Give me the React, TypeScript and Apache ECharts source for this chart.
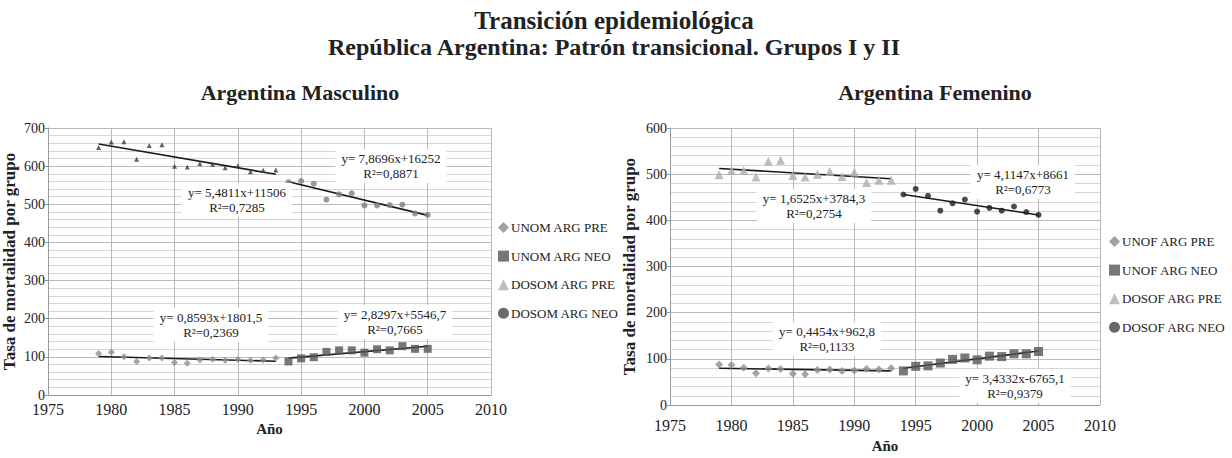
import React, { useEffect, useRef } from "react";
import * as echarts from "echarts";

const yearsPre = [1979, 1980, 1981, 1982, 1983, 1984, 1985, 1986, 1987, 1988, 1989, 1990, 1991, 1992, 1993];
const yearsNeo = [1994, 1995, 1996, 1997, 1998, 1999, 2000, 2001, 2002, 2003, 2004, 2005];

// Argentina Masculino
const unomPre = [109, 112, 100, 88, 97, 97, 85, 83, 92, 94, 91, 93, 91, 92, 97];
const unomNeo = [88, 96, 99, 113, 117, 117, 111, 120, 117, 128, 121, 121];
const dosomPre = [649, 663, 664, 618, 654, 656, 600, 598, 607, 605, 596, 601, 585, 589, 590];
const dosomNeo = [558, 561, 554, 512, 526, 529, 497, 497, 498, 499, 476, 472];

// Argentina Femenino
const unofPre = [88, 87, 81, 69, 79, 78, 68, 67, 76, 77, 74, 75, 78, 77, 80];
const unofNeo = [74, 84, 85, 91, 99, 102, 98, 106, 105, 111, 111, 116];
const dosofPre = [499, 508, 508, 494, 528, 530, 497, 494, 500, 506, 495, 504, 482, 487, 487];
const dosofNeo = [456, 468, 453, 421, 437, 445, 419, 427, 421, 430, 418, 412];

const legendMasc = ["UNOM ARG PRE", "UNOM ARG NEO", "DOSOM ARG PRE", "DOSOM ARG NEO"];
const legendFem = ["UNOF ARG PRE", "UNOF ARG NEO", "DOSOF ARG PRE", "DOSOF ARG NEO"];

const eqMasc = [
  "y= 0,8593x+1801,5\nR²=0,2369",
  "y= 2,8297x+5546,7\nR²=0,7665",
  "y= 5,4811x+11506\nR²=0,7285",
  "y= 7,8696x+16252\nR²=0,8871",
];
const eqFem = [
  "y= 0,4454x+962,8\nR²=0,1133",
  "y= 3,4332x-6765,1\nR²=0,9379",
  "y= 1,6525x+3784,3\nR²=0,2754",
  "y= 4,1147x+8661\nR²=0,6773",
];

const FONT = "Liberation Serif";

function pairs(xs: number[], ys: number[]) {
  return xs.map((x, i) => [x, ys[i]]);
}

function fit(xs: number[], ys: number[]) {
  const n = xs.length;
  const mx = xs.reduce((a, b) => a + b, 0) / n;
  const my = ys.reduce((a, b) => a + b, 0) / n;
  let sxy = 0;
  let sxx = 0;
  for (let i = 0; i < n; i++) {
    sxy += (xs[i] - mx) * (ys[i] - my);
    sxx += (xs[i] - mx) * (xs[i] - mx);
  }
  const b = sxy / sxx;
  const a = my - b * mx;
  const x0 = xs[0];
  const x1 = xs[n - 1];
  return [
    [x0, a + b * x0],
    [x1, a + b * x1],
  ];
}

function trend(idx: number, xs: number[], ys: number[]) {
  return {
    type: "line",
    xAxisIndex: idx,
    yAxisIndex: idx,
    data: fit(xs, ys),
    symbol: "none",
    lineStyle: { color: "#1a1a1a", width: 1.6 },
    silent: true,
    z: 3,
  };
}

function scatter(idx: number, name: string, xs: number[], ys: number[], symbol: string, size: number, color: string) {
  return {
    type: "scatter",
    name,
    xAxisIndex: idx,
    yAxisIndex: idx,
    data: pairs(xs, ys),
    symbol,
    symbolSize: size,
    itemStyle: { color },
    z: 4,
  };
}

function xAxis(idx: number, labelMargin: number, nameGap: number) {
  return {
    type: "value",
    gridIndex: idx,
    min: 1975,
    max: 2010,
    interval: 5,
    name: "Año",
    nameLocation: "middle",
    nameGap,
    nameTextStyle: { fontFamily: FONT, fontWeight: "bold", fontSize: 15, color: "#222" },
    axisLine: { show: true, lineStyle: { color: "#9a9a9a", width: 1 } },
    axisTick: { show: false },
    axisLabel: {
      fontFamily: FONT,
      fontSize: 16,
      color: "#222",
      margin: labelMargin,
      formatter: (v: number) => String(v),
    },
    splitLine: { show: true, lineStyle: { color: "#b9b9b9", width: 1 } },
  };
}

function yAxis(idx: number, max: number, nameGap: number) {
  return {
    type: "value",
    gridIndex: idx,
    min: 0,
    max,
    interval: 100,
    name: "Tasa de mortalidad por grupo",
    nameLocation: "middle",
    nameGap,
    nameTextStyle: { fontFamily: FONT, fontWeight: "bold", fontSize: 17, color: "#222" },
    axisLine: { show: true, lineStyle: { color: "#9a9a9a", width: 1 } },
    axisTick: { show: true, length: 3, lineStyle: { color: "#9a9a9a" } },
    axisLabel: { fontFamily: FONT, fontSize: 14, color: "#222", margin: 3 },
    splitLine: { show: true, lineStyle: { color: "#b9b9b9", width: 1 } },
    minorTick: { show: false, splitNumber: 5 },
    minorSplitLine: { show: true, lineStyle: { color: "#d6d6d6", width: 1 } },
  };
}

function legend(names: string[], left: number, top: number) {
  const icons = ["diamond", "rect", "triangle", "circle"];
  const colors = ["#8a8a8a", "#555555", "#acacac", "#444444"];
  return {
    orient: "vertical",
    left,
    top,
    padding: 0,
    itemGap: 15.6,
    itemWidth: 11,
    itemHeight: 11,
    textStyle: { fontFamily: FONT, fontSize: 13, color: "#222", padding: [0, 0, 0, -3] },
    data: names.map((n, i) => ({ name: n, icon: icons[i], itemStyle: { color: colors[i] } })),
    selectedMode: false,
  };
}

function eqLabel(text: string, x: number, y: number) {
  return {
    type: "text",
    x,
    y,
    z: 50,
    style: {
      text,
      fontFamily: FONT,
      fontSize: 13,
      lineHeight: 15,
      fill: "#222",
      align: "center",
      verticalAlign: "middle",
      backgroundColor: "#ffffff",
      padding: [2, 6],
    },
  };
}

function headText(text: string, x: number, y: number, size: number) {
  return {
    type: "text",
    x,
    y,
    style: {
      text,
      fontFamily: FONT,
      fontWeight: "bold",
      fontSize: size,
      fill: "#222",
      align: "center",
      verticalAlign: "middle",
    },
  };
}

export default function App() {
  const ref = useRef<HTMLDivElement>(null);
  useEffect(() => {
    if (!ref.current) return;
    const chart = echarts.init(ref.current, null, { renderer: "svg" });
    chart.setOption({
      animation: false,
      backgroundColor: "#ffffff",
      textStyle: { fontFamily: FONT },
      grid: [
        { left: 48, top: 128, width: 443, height: 267 },
        { left: 670, top: 128, width: 430, height: 280 },
      ],
      xAxis: [xAxis(0, 6, 24), xAxis(1, 12, 31)],
      yAxis: [yAxis(0, 700, 30), yAxis(1, 600, 32)],
      legend: [legend(legendMasc, 498, 221), legend(legendFem, 1109, 235)],
      series: [
        scatter(0, legendMasc[0], yearsPre, unomPre, "diamond", 7, "#8f8f8f"),
        scatter(0, legendMasc[1], yearsNeo, unomNeo, "rect", 8, "#555555"),
        scatter(0, legendMasc[2], yearsPre, dosomPre, "triangle", 5, "#3a3a3a"),
        scatter(0, legendMasc[3], yearsNeo, dosomNeo, "circle", 6, "#808080"),
        trend(0, yearsPre, unomPre),
        trend(0, yearsNeo, unomNeo),
        trend(0, yearsPre, dosomPre),
        trend(0, yearsNeo, dosomNeo),
        scatter(1, legendFem[0], yearsPre, unofPre, "diamond", 8, "#8f8f8f"),
        scatter(1, legendFem[1], yearsNeo, unofNeo, "rect", 9, "#555555"),
        scatter(1, legendFem[2], yearsPre, dosofPre, "triangle", 9, "#acacac"),
        scatter(1, legendFem[3], yearsNeo, dosofNeo, "circle", 6, "#1e1e1e"),
        trend(1, yearsPre, unofPre),
        trend(1, yearsNeo, unofNeo),
        trend(1, yearsPre, dosofPre),
        trend(1, yearsNeo, dosofNeo),
      ],
      graphic: [
        headText("Transición epidemiológica", 614, 20, 25),
        headText("República Argentina: Patrón transicional. Grupos I y II", 614, 47, 24),
        headText("Argentina Masculino", 300, 92, 22),
        headText("Argentina Femenino", 935, 92, 22),
        eqLabel(eqMasc[0], 211, 325),
        eqLabel(eqMasc[1], 395, 322),
        eqLabel(eqMasc[2], 237, 200),
        eqLabel(eqMasc[3], 391, 166),
        eqLabel(eqFem[0], 827, 339),
        eqLabel(eqFem[1], 1015, 386),
        eqLabel(eqFem[2], 814, 206),
        eqLabel(eqFem[3], 1023, 182),
      ],
    });
    return () => chart.dispose();
  }, []);
  return (
    <div
      ref={ref}
      style={{ position: "fixed", left: 0, top: 0, width: 1232, height: 458 }}
    />
  );
}
